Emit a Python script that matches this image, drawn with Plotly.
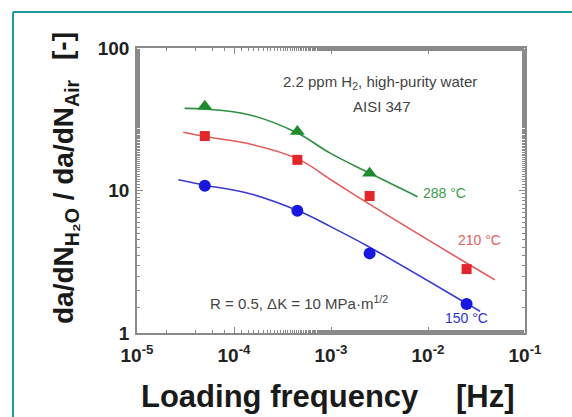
import plotly.graph_objects as go

# ---- data ----
freq_pts = [5e-5, 4.5e-4, 2.5e-3, 2.5e-2]
green_freq = [5e-5, 4.5e-4, 2.5e-3]
green_ratio = [39.0, 25.9, 13.2]
red_ratio = [24.1, 16.4, 9.15, 2.81]
blue_ratio = [10.8, 7.2, 3.62, 1.6]

# fitted curves
green_curve_f = [3.1e-5, 5e-5, 1.46e-4, 4.4e-4, 9.8e-4, 2.52e-3, 7.8e-3]
green_curve_r = [37.7, 37.3, 33.9, 25.5, 18.3, 13.2, 9.05]
red_curve_f = [3.0e-5, 5e-5, 1.46e-4, 4.6e-4, 9.8e-4, 2.0e-3, 2.47e-2, 4.9e-2]
red_curve_r = [25.6, 23.9, 21.2, 16.6, 12.0, 8.8, 3.11, 2.36]
blue_curve_f = [2.67e-5, 5e-5, 1.46e-4, 4.6e-4, 9.8e-4, 2.5e-3, 2.47e-2, 3.44e-2]
blue_curve_r = [11.9, 10.9, 9.5, 7.2, 5.6, 4.0, 1.62, 1.42]

x_tickvals = [1e-5, 1e-4, 1e-3, 1e-2, 1e-1]
x_ticktext = ["10<sup>-5</sup>", "10<sup>-4</sup>", "10<sup>-3</sup>", "10<sup>-2</sup>", "10<sup>-1</sup>"]
y_tickvals = [1, 10, 100]
y_ticktext = ["1", "10", "100"]

GREEN = "#1e8c2e"
RED = "#e3262c"
BLUE = "#1818e0"
FONT = "Liberation Sans, Arial, sans-serif"

fig = go.Figure()
fig.add_trace(go.Scatter(x=green_curve_f, y=green_curve_r, mode="lines", line=dict(color="#2f8f3f", width=1.6, shape="spline", smoothing=1.1), showlegend=False))
fig.add_trace(go.Scatter(x=red_curve_f, y=red_curve_r, mode="lines", line=dict(color="#e55a5a", width=1.6, shape="spline", smoothing=1.1), showlegend=False))
fig.add_trace(go.Scatter(x=blue_curve_f, y=blue_curve_r, mode="lines", line=dict(color="#3a3ad0", width=1.6, shape="spline", smoothing=1.1), showlegend=False))
fig.add_trace(go.Scatter(x=green_freq, y=green_ratio, mode="markers", marker=dict(symbol="triangle-up", size=13, color=GREEN), showlegend=False))
fig.add_trace(go.Scatter(x=freq_pts, y=red_ratio, mode="markers", marker=dict(symbol="square", size=10, color=RED), showlegend=False))
fig.add_trace(go.Scatter(x=freq_pts, y=blue_ratio, mode="markers", marker=dict(symbol="circle", size=12, color=BLUE), showlegend=False))

axis_common = dict(
    showgrid=False, zeroline=False, showline=True, linecolor="#8a8a8a", linewidth=1.5,
    mirror="ticks", ticks="inside", ticklen=6, tickcolor="#8a8a8a", tickwidth=1.2,
    minor=dict(ticks="inside", ticklen=3, tickcolor="#8a8a8a", showgrid=False),
    tickfont=dict(family=FONT, size=19, color="#222", weight="bold"),
)
fig.update_xaxes(type="log", range=[-5, -1], tickvals=x_tickvals, ticktext=x_ticktext,
                 ticklabelstandoff=4, **axis_common)
fig.update_yaxes(type="log", range=[0, 2], tickvals=y_tickvals, ticktext=y_ticktext,
                 ticklabelstandoff=2, **axis_common)

ann = []
txt = dict(family=FONT, size=15, color="#444")
def dann(x, y, text, font):
    return dict(x=x, y=y, xref="x", yref="y", text=text, showarrow=False, font=font,
                xanchor="center", yanchor="middle")
ann.append(dann(-2.495, 1.761, "2.2 ppm H<sub>2</sub>, high-purity water", txt))
ann.append(dann(-2.474, 1.586, "AISI 347", txt))
ann.append(dann(-3.33, 0.211, "R = 0.5, ΔK = 10 MPa·m<sup>1/2</sup>", txt))
ann.append(dann(-1.825, 0.982, "288 °C", dict(family=FONT, size=14, color="#3c9c4c")))
ann.append(dann(-1.464, 0.653, "210 °C", dict(family=FONT, size=14, color="#e06060")))
ann.append(dann(-1.598, 0.105, "150 °C", dict(family=FONT, size=14, color="#3030d0")))

# axis titles
W, H, L, R, T, B = 572, 417, 137, 47, 48, 84
pw, ph = W - L - R, H - T - B
def px(x):
    return (x - L) / pw
def py(y):
    return (H - B - y) / ph
def pann(x, y, text, font, angle=0):
    return dict(x=px(x), y=py(y), xref="paper", yref="paper", text=text, showarrow=False,
                font=font, textangle=angle, xanchor="center", yanchor="middle")

big = dict(family=FONT, size=31, color="#1a1a1a", weight="bold")
ann.append(pann(280, 396, "Loading frequency", big))
ann.append(pann(485, 396, "[Hz]", big))
yfont = dict(family=FONT, size=28, color="#1a1a1a", weight="bold")
ann.append(pann(65, 202, "da/dN<sub>H₂O</sub> / da/dN<sub>Air</sub>", yfont, -90))
ann.append(pann(63, 46, "[-]", yfont, -90))

shapes = [
    dict(type="line", xref="paper", yref="paper", x0=px(13), x1=px(13), y0=py(430), y1=py(12), line=dict(color="#1e9c96", width=2)),
    dict(type="line", xref="paper", yref="paper", x0=px(13), x1=px(600), y0=py(12), y1=py(12), line=dict(color="#1e9c96", width=2)),
]

fig.update_layout(
    width=W, height=H, margin=dict(l=L, r=R, t=T, b=B),
    paper_bgcolor="white", plot_bgcolor="white",
    annotations=ann, shapes=shapes, showlegend=False,
)
fig.write_html("out.html")
